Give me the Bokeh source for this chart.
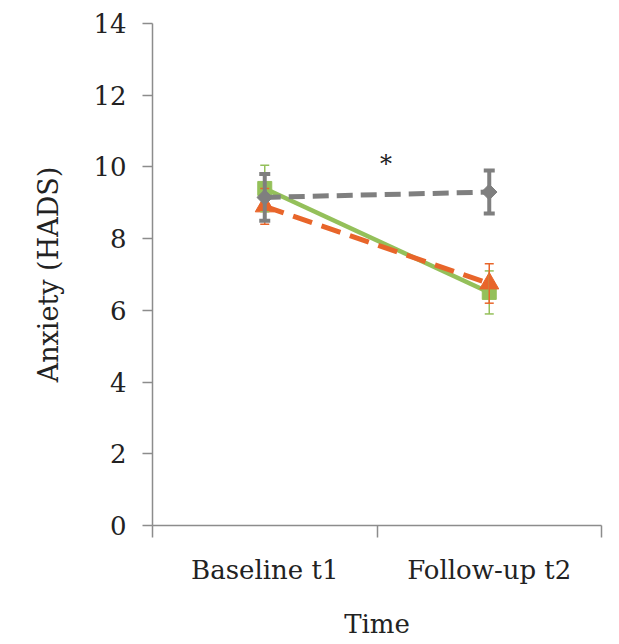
import numpy as np
from bokeh.plotting import figure
from bokeh.models import FixedTicker, Whisker, TeeHead, ColumnDataSource, Range1d
from bokeh.embed import file_html
from bokeh.resources import INLINE
from bokeh.core.properties import value

# ---- data ----
categories = ["Baseline t1", "Follow-up t2"]
y_ticks = [0, 2, 4, 6, 8, 10, 12, 14]

gray_mean = [9.15, 9.3]
gray_err = [0.65, 0.6]
orange_mean = [8.9, 6.75]
orange_err = [0.5, 0.55]
green_mean = [9.4, 6.5]
green_err = [0.65, 0.6]

sig_text = ["*"]
sig_x = [1.04]
sig_y = [10.08]

FONT = "DejaVu Serif"
TXT = "#222222"
AXC = "#8c8c8c"
GRAY = "#7f7f7f"
ORANGE = "#e8652a"
GREEN = "#94c05a"

cat_x = [i + 0.5 for i in range(len(categories))]
boundaries = [float(i) for i in range(len(categories) + 1)]

p = figure(frame_width=449, frame_height=502, output_backend="svg", toolbar_location=None,
           x_range=Range1d(0, len(categories)), y_range=Range1d(0, 14),
           min_border_left=152, min_border_right=12, min_border_top=23,
           min_border_bottom=100)
p.outline_line_color = None
p.grid.visible = False
p.background_fill_color = "white"

# x axis: labels at category centres, ticks at boundaries
p.xaxis.ticker = FixedTicker(ticks=cat_x, minor_ticks=boundaries)
p.xaxis.major_label_overrides = {cx: c for cx, c in zip(cat_x, categories)}
p.xaxis.major_tick_line_color = None
p.xaxis.major_tick_out = 0
p.xaxis.major_tick_in = 0
p.xaxis.minor_tick_out = 12
p.xaxis.minor_tick_in = 0
p.xaxis.minor_tick_line_color = AXC
p.xaxis.minor_tick_line_width = 1.5
p.xaxis.major_label_standoff = 17
p.xaxis.axis_label = "Time"
p.xaxis.axis_label_standoff = 21

p.yaxis.ticker = FixedTicker(ticks=y_ticks, minor_ticks=[])
p.yaxis.major_tick_out = 10
p.yaxis.major_tick_in = 0
p.yaxis.major_tick_line_color = AXC
p.yaxis.major_tick_line_width = 1.5
p.yaxis.major_label_standoff = 16
p.yaxis.axis_label = "Anxiety (HADS)"
p.yaxis.axis_label_standoff = 26

for ax in (p.xaxis, p.yaxis):
    ax.axis_line_color = AXC
    ax.axis_line_width = 1.5
    ax.major_label_text_font = FONT
    ax.major_label_text_font_size = "26px"
    ax.major_label_text_color = TXT
    ax.axis_label_text_font = FONT
    ax.axis_label_text_font_style = "normal"
    ax.axis_label_text_color = TXT
p.xaxis.axis_label_text_font_size = "26px"
p.yaxis.axis_label_text_font_size = "27px"


def series(mean, err, color, lw, dash, marker, msize, ewidth, cap, angle=0.0):
    src = ColumnDataSource(dict(
        x=cat_x, y=mean,
        upper=[m + e for m, e in zip(mean, err)],
        lower=[m - e for m, e in zip(mean, err)]))
    w = Whisker(source=src, base="x", upper="upper", lower="lower",
                line_color=color, line_width=ewidth, level="glyph",
                upper_head=TeeHead(size=cap, line_color=color, line_width=ewidth),
                lower_head=TeeHead(size=cap, line_color=color, line_width=ewidth))
    p.add_layout(w)
    p.line("x", "y", source=src, line_color=color, line_width=lw, line_dash=dash)
    p.scatter("x", "y", source=src, marker=marker, size=msize, angle=angle,
              fill_color=color, line_color=color)


series(green_mean, green_err, GREEN, 4.5, "solid", "square", 14, 1.5, 9)
series(orange_mean, orange_err, ORANGE, 5, "20 10", "triangle", 19, 1.5, 9)
series(gray_mean, gray_err, GRAY, 5, "16 8", "square", 11, 4, 11, angle=np.pi / 4)

p.text(x=sig_x, y=sig_y, text=sig_text, text_font=value(FONT),
       text_font_size="24px", text_color=TXT, text_align="center",
       text_baseline="middle")

open("out.html", "w").write(file_html(p, INLINE))
